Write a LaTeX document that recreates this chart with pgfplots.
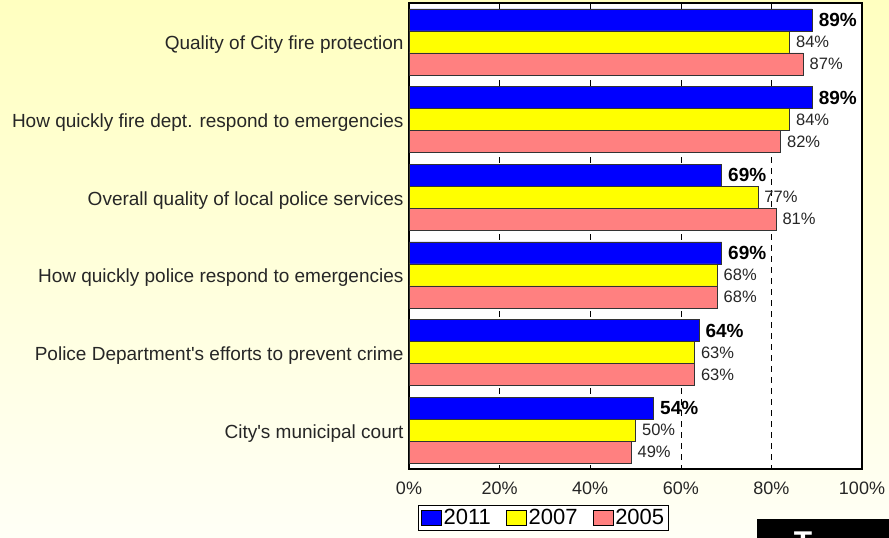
\documentclass[border=0pt]{standalone}
\usepackage{pgfplots}
\pgfplotsset{compat=1.18}
\usepackage{fontspec}
\setmainfont{Liberation Sans}

\definecolor{c2011}{RGB}{0,0,255}
\definecolor{c2007}{RGB}{255,255,0}
\definecolor{c2005}{RGB}{255,128,128}
\definecolor{bgtop}{RGB}{255,255,192}
\definecolor{bgbot}{RGB}{255,255,246}

\pgfplotsset{
  boxleg/.style={legend image code/.code={
    \draw[##1,draw=black,line width=0.7bp] (0bp,-7.5bp) rectangle (20bp,7.5bp);}},
}

\begin{document}
\begin{tikzpicture}
\fill[top color=bgtop,bottom color=bgbot] (0,0) rectangle (889bp,538bp);
\begin{axis}[
  at={(409bp,69bp)}, anchor=south west,
  scale only axis, width=453bp, height=466bp,
  xbar, bar width=0.283,
  xmin=0, xmax=100, ymin=-0.5, ymax=5.5, y dir=reverse,
  xtick={0,20,...,100}, ytick={0,...,5},
  yticklabels={Quality of City fire protection,
    How quickly fire dept. respond to emergencies,
    Overall quality of local police services,
    How quickly police respond to emergencies,
    Police Department\textquotesingle s efforts to prevent crime,
    City\textquotesingle s municipal court},
  xticklabel={\pgfmathprintnumber{\tick}\%},
  /pgf/number format/assume math mode=true,
  yticklabel style={font=\fontsize{19bp}{22bp}\selectfont, text=black!85, xshift=-2bp, yshift=-3bp},
  xticklabel style={font=\fontsize{18bp}{22bp}\selectfont, text=black!85, yshift=-9bp},
  major tick length=0,
  xmajorgrids,
  major grid style={black, line width=0.6bp, dash pattern=on 6bp off 5bp},
  axis background/.style={fill=white},
  axis line style={line width=1.6bp},
  nodes near coords={\pgfmathprintnumber{\pgfplotspointmeta}\%},
  every node near coord/.append style={font=\fontsize{16.5bp}{20bp}\selectfont, text=black!85, xshift=3bp},
  legend columns=3,
  legend style={at={(0.0199,-0.0773)}, anchor=north west, draw=black,
    line width=0.8bp, fill=white,
    font=\fontsize{22bp}{24bp}\selectfont,
    nodes={inner xsep=1.5bp},
    /tikz/every even column/.append style={column sep=14bp}},
]
\addplot[boxleg, fill=c2011, draw=black!80, line width=0.6bp, bar shift=-0.283,
  every node near coord/.append style={font=\fontsize{19bp}{22bp}\selectfont\bfseries, text=black}]
  coordinates {(89,0) (89,1) (69,2) (69,3) (64,4) (54,5)};
\addplot[boxleg, fill=c2007, draw=black!80, line width=0.6bp, bar shift=0]
  coordinates {(84,0) (84,1) (77,2) (68,3) (63,4) (50,5)};
\addplot[boxleg, fill=c2005, draw=black!80, line width=0.6bp, bar shift=0.283]
  coordinates {(87,0) (82,1) (81,2) (68,3) (63,4) (49,5)};
\legend{2011,2007,2005}
\end{axis}
\fill[black] (757bp,-5bp) rectangle (895bp,19bp);
\node[anchor=north, inner sep=0pt, text=white, font=\fontsize{30bp}{30bp}\selectfont\bfseries]
  at (803bp,6bp) {T};
\pgfresetboundingbox
\useasboundingbox (0,0) rectangle (889bp,538bp);
\end{tikzpicture}
\end{document}
